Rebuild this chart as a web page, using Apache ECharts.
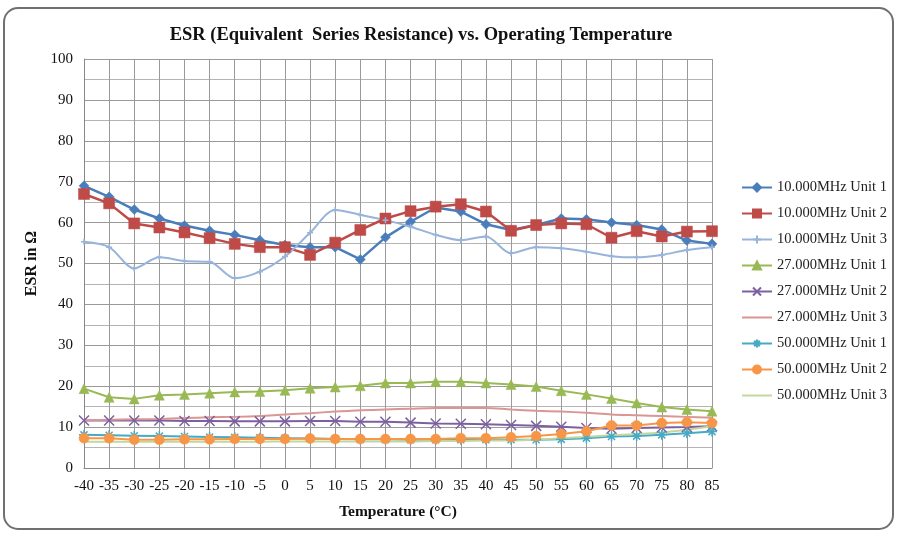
<!DOCTYPE html>
<html>
<head>
<meta charset="utf-8">
<script src="https://cdn.jsdelivr.net/npm/echarts@6/dist/echarts.min.js"></script>
<style>
  html, body { margin: 0; padding: 0; background: #fff; }
  #chart { width: 898px; height: 536px; }
</style>
</head>
<body>
<div id="chart"></div>
<script>
// temperature steps on the x axis
const temps = ['-40', '-35', '-30', '-25', '-20', '-15', '-10', '-5', '0', '5', '10', '15', '20',
  '25', '30', '35', '40', '45', '50', '55', '60', '65', '70', '75', '80', '85']

// ESR readings, one list per unit
const mhz10_u1 = [69, 66.3, 63.2, 61, 59.3, 58, 57, 55.7, 54.5, 54, 54, 51, 56.4, 60.2, 63.7, 62.7, 59.6, 58.2, 59.4, 61, 60.8, 60, 59.4, 58.3, 55.6, 54.8]
const mhz10_u2 = [67, 64.7, 59.8, 58.8, 57.6, 56.2, 54.8, 54, 54, 52.1, 55.1, 58.2, 61, 62.8, 63.9, 64.5, 62.7, 58, 59.4, 59.8, 59.6, 56.3, 57.9, 56.6, 57.8, 57.9]
const mhz10_u3 = [55.3, 54, 48.8, 51.5, 50.6, 50.4, 46.4, 48, 51.7, 57.5, 63.1, 61.9, 60.6, 59, 57, 55.7, 56.6, 52.5, 54, 53.7, 52.9, 51.8, 51.5, 52.1, 53.3, 54]
const mhz27_u1 = [19.4, 17.3, 16.9, 17.8, 18, 18.3, 18.6, 18.7, 19, 19.5, 19.8, 20.1, 20.8, 20.8, 21.1, 21.1, 20.8, 20.4, 19.9, 18.9, 18, 17, 15.9, 14.9, 14.3, 13.9]
const mhz27_u2 = [11.6, 11.6, 11.6, 11.6, 11.5, 11.5, 11.4, 11.4, 11.4, 11.5, 11.5, 11.3, 11.3, 11.1, 10.9, 10.8, 10.7, 10.5, 10.3, 10.1, 9.8, 9.6, 9.8, 9.9, 10, 10.2]
const mhz27_u3 = [11.7, 11.8, 11.9, 12, 12.2, 12.4, 12.5, 12.7, 13.1, 13.4, 13.8, 14.1, 14.3, 14.5, 14.7, 14.7, 14.7, 14.3, 14, 13.8, 13.5, 13.1, 12.9, 12.7, 12.5, 12.3]
const mhz50_u1 = [8.1, 8, 7.9, 7.8, 7.7, 7.6, 7.5, 7.4, 7.3, 7.2, 7.1, 7, 7, 6.9, 6.9, 6.9, 6.9, 6.9, 6.9, 7, 7.3, 7.7, 7.8, 8.1, 8.5, 8.9]
const mhz50_u2 = [7.3, 7.3, 6.9, 6.9, 7, 7, 7.1, 7.1, 7.1, 7.2, 7.1, 7.1, 7.1, 7.1, 7.1, 7.3, 7.3, 7.5, 7.8, 8.3, 9, 10.4, 10.4, 11, 11.2, 11]
const mhz50_u3 = [6.4, 6.4, 6.4, 6.4, 6.4, 6.4, 6.4, 6.4, 6.5, 6.5, 6.5, 6.5, 6.5, 6.5, 6.6, 6.6, 6.7, 6.7, 6.9, 7.3, 7.6, 8, 8.3, 8.7, 9.4, 10.2]

const serif = '"Liberation Serif", "Times New Roman", serif'

// stroked marker shapes (x, plus, asterisk)
const xMark = 'path://M0 0 L10 10 M10 0 L0 10'
const plusMark = 'path://M0 5 L10 5 M5 0 L5 10'
const starMark = 'path://M0 5 L10 5 M5 0 L5 10 M1.5 1.5 L8.5 8.5 M8.5 1.5 L1.5 8.5'

const mkSeries = function (name, data, color, symbol, size, width, smooth, stroked) {
  return {
    name: name,
    type: 'line',
    data: data,
    smooth: smooth ? 0.3 : false,
    symbol: symbol,
    symbolSize: size,
    showSymbol: symbol != 'none',
    lineStyle: { color: color, width: width },
    itemStyle: stroked
      ? { color: color, borderColor: color, borderWidth: 1.5 }
      : { color: color, borderColor: color, borderWidth: 0.5 },
    emphasis: { disabled: true },
    z: 3
  }
}

const seriesList = [
  mkSeries('10.000MHz Unit 1', mhz10_u1, '#4a7ebb', 'diamond', 10, 2.5, false, false),
  mkSeries('10.000MHz Unit 2', mhz10_u2, '#be4b48', 'rect', 11, 2.5, false, false),
  mkSeries('10.000MHz Unit 3', mhz10_u3, '#98b4da', plusMark, 6, 2, true, true),
  mkSeries('27.000MHz Unit 1', mhz27_u1, '#98b954', 'triangle', 10, 2, false, false),
  mkSeries('27.000MHz Unit 2', mhz27_u2, '#7d60a0', xMark, 10, 2, false, true),
  mkSeries('27.000MHz Unit 3', mhz27_u3, '#d99694', 'none', 0, 2, true, false),
  mkSeries('50.000MHz Unit 1', mhz50_u1, '#46aac5', starMark, 10, 2, false, true),
  mkSeries('50.000MHz Unit 2', mhz50_u2, '#f79646', 'circle', 10, 2, false, false),
  mkSeries('50.000MHz Unit 3', mhz50_u3, '#c3d69b', 'none', 0, 2, true, false)
]

// legend entries: plain line for the series without markers
const legendData = seriesList.map(function (s) {
  if (s.symbol == 'none') {
    return { name: s.name, itemStyle: { opacity: 0 } }
  }
  return { name: s.name }
})

const chart = echarts.init(document.getElementById('chart'))

chart.setOption({
  animation: false,
  backgroundColor: '#fff',
  title: {
    text: 'ESR (Equivalent  Series Resistance) vs. Operating Temperature',
    left: 416,
    textAlign: 'center',
    top: 21,
    textStyle: { fontFamily: serif, fontSize: 18.5, fontWeight: 'bold', color: '#111' }
  },
  graphic: [{
    type: 'rect',
    shape: { x: 4, y: 8, width: 889, height: 521, r: 14 },
    style: { fill: 'none', stroke: '#707070', lineWidth: 2 },
    z: -1
  }],
  legend: {
    data: legendData,
    orient: 'vertical',
    left: 736,
    top: 175,
    itemWidth: 30,
    itemHeight: 10,
    itemGap: 11,
    textStyle: { fontFamily: serif, fontSize: 14.5, color: '#222' }
  },
  grid: { left: 84, top: 59, width: 628, height: 409 },
  xAxis: {
    type: 'category',
    data: temps,
    boundaryGap: false,
    name: 'Temperature (°C)',
    nameLocation: 'middle',
    nameGap: 36,
    nameTextStyle: { fontFamily: serif, fontSize: 15.5, fontWeight: 'bold', color: '#111' },
    axisLine: { lineStyle: { color: '#888', width: 1 } },
    axisTick: { show: false },
    axisLabel: { interval: 0, margin: 11, fontFamily: serif, fontSize: 15, color: '#111' },
    splitLine: { show: true, interval: 0, lineStyle: { color: '#9a9a9a', width: 1 } }
  },
  yAxis: {
    type: 'value',
    min: 0,
    max: 100,
    interval: 10,
    name: 'ESR in Ω',
    nameLocation: 'middle',
    nameGap: 44,
    nameTextStyle: { fontFamily: serif, fontSize: 16, fontWeight: 'bold', color: '#111' },
    axisLine: { show: true, lineStyle: { color: '#888', width: 1 } },
    axisTick: { show: false },
    axisLabel: { margin: 11, fontFamily: serif, fontSize: 15, color: '#111' },
    splitLine: { show: true, lineStyle: { color: '#9a9a9a', width: 1 } },
    minorTick: { show: false, splitNumber: 2 },
    minorSplitLine: { show: true, lineStyle: { color: '#b4b4b4', width: 1 } }
  },
  series: seriesList
})
</script>
</body>
</html>
